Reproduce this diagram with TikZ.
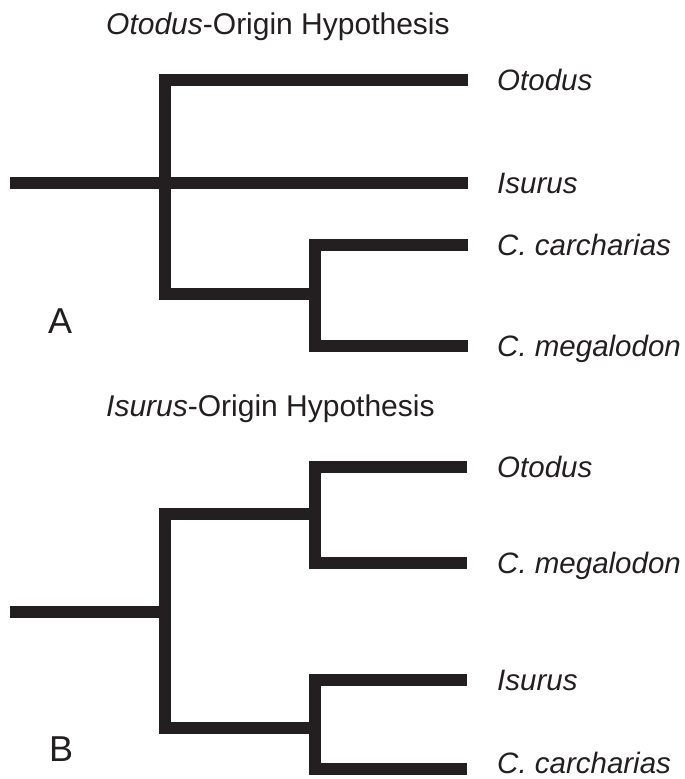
\documentclass[tikz,border=0pt]{standalone}
\usepackage{fontspec}
\setmainfont{Liberation Sans}
\usetikzlibrary{positioning}
\definecolor{ink}{HTML}{231F20}
\tikzset{
	cladogram/.style={x=1pt, y=-1pt, every node/.style={text=ink, inner sep=0pt}},
	branch/.style={draw=ink, line width=12pt, line cap=butt, line join=miter},
	taxon/.style={font=\fontsize{29.5}{34}\selectfont\itshape, text height=21pt, text depth=0pt},
	hyp/.style={font=\fontsize{30}{34}\selectfont, anchor=base west},
	panel/.style={font=\fontsize{36}{40}\selectfont, anchor=base west}
}
\begin{document}
\begin{tikzpicture}[cladogram]
	\useasboundingbox (0,0) rectangle (685,779);
	% A: Otodus-origin
	\node[hyp] (a_title) at (106,34) {\textit{Otodus}-Origin Hypothesis};
	\node[panel] (a_lab) at (48,333) {A};
	\coordinate (a_root) at (10,183);
	\coordinate (a_oto) at (468,80);
	\coordinate (a_isu) at (468,183);
	\coordinate (a_car) at (468,245);
	\coordinate (a_meg) at (468,346);
	\coordinate (a_n1) at (165,294);
	\coordinate (a_n2) at (315,294);
	\node[taxon, right=29pt of a_oto] (a_oto_t) {Otodus};
	\node[taxon, right=29pt of a_isu] (a_isu_t) {Isurus};
	\node[taxon, right=29pt of a_car] (a_car_t) {C. carcharias};
	\node[taxon, right=29pt of a_meg] (a_meg_t) {C. megalodon};
	\draw[branch] (a_root) -- (a_isu);
	\draw[branch] (a_oto) -| (a_n1) -- (a_n2);
	\draw[branch] (a_car) -| (a_n2) |- (a_meg);
	% B: Isurus-origin
	\node[hyp] (b_title) at (106,416) {\textit{Isurus}-Origin Hypothesis};
	\node[panel] (b_lab) at (49,761) {B};
	\coordinate (b_root) at (10,612);
	\coordinate (b_n0) at (165,612);
	\coordinate (b_n1) at (315,514);
	\coordinate (b_n2) at (315,728);
	\coordinate (b_oto) at (467,467);
	\coordinate (b_meg) at (467,563);
	\coordinate (b_isu) at (467,680);
	\coordinate (b_car) at (467,769);
	\node[taxon, right=30pt of b_oto] (b_oto_t) {Otodus};
	\node[taxon, right=30pt of b_meg] (b_meg_t) {C. megalodon};
	\node[taxon, right=30pt of b_isu] (b_isu_t) {Isurus};
	\node[taxon, right=30pt of b_car, yshift=6pt] (b_car_t) {C. carcharias};
	\draw[branch] (b_root) -- (b_n0);
	\draw[branch] (b_n1) -| (b_n0) |- (b_n2);
	\draw[branch] (b_oto) -| (b_n1) |- (b_meg);
	\draw[branch] (b_isu) -| (b_n2) |- (b_car);
\end{tikzpicture}
\end{document}
